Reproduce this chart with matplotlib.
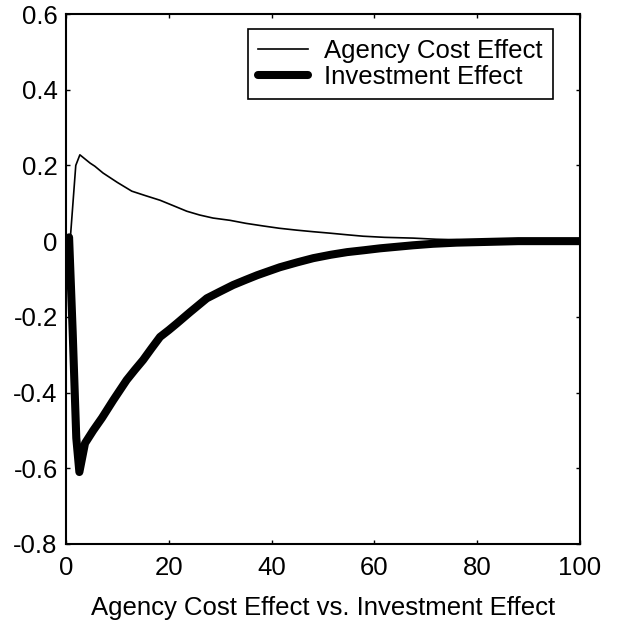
import numpy as np
import matplotlib
matplotlib.use('Agg')
import matplotlib.pyplot as plt
from matplotlib.ticker import FormatStrFormatter

plt.rcParams['font.family'] = ['Liberation Sans', 'DejaVu Sans']
plt.rcParams['axes.unicode_minus'] = False

# Agency cost effect (thin line)
agency_x = [0.8, 1.9, 2.7, 4.7, 5.6, 7.2, 10.0, 12.8, 15.5, 18.3, 21.0, 23.5,
            26.0, 28.6, 31.9, 35.0, 38.4, 41.5, 44.9, 48.0, 51.4, 54.5, 57.8,
            62.0, 67.5, 72.0, 78.0, 85.0, 100.0]
agency_y = [0.0, 0.20, 0.228, 0.206, 0.198, 0.18, 0.155, 0.132, 0.12, 0.108,
            0.093, 0.079, 0.069, 0.061, 0.055, 0.047, 0.040, 0.034, 0.029,
            0.025, 0.021, 0.017, 0.013, 0.010, 0.008, 0.005, 0.003, 0.001, 0.0]

# Investment effect (thick line)
invest_x = [0.6, 1.3, 2.0, 2.6, 3.7, 5.3, 7.0, 9.2, 11.8, 13.4, 15.0, 16.6,
            18.3, 20.0, 21.6, 24.1, 27.4, 30.0, 32.5, 35.0, 37.2, 39.5, 41.6,
            45.0, 48.1, 51.5, 54.7, 58.0, 61.1, 64.3, 67.5, 71.4, 76.0, 82.0,
            88.0, 100.0]
invest_y = [0.01, -0.24, -0.52, -0.61, -0.534, -0.50, -0.467, -0.42, -0.367,
            -0.34, -0.314, -0.284, -0.253, -0.235, -0.217, -0.188, -0.151,
            -0.133, -0.116, -0.102, -0.09, -0.079, -0.069, -0.056, -0.045,
            -0.036, -0.029, -0.024, -0.019, -0.015, -0.011, -0.007, -0.004,
            -0.002, 0.0, 0.0]

xticks = [0, 20, 40, 60, 80, 100]
yticks = [-0.8, -0.6, -0.4, -0.2, 0, 0.2, 0.4, 0.6]

fig = plt.figure(figsize=(6.18, 6.28), dpi=100)
ax = fig.add_axes([0.1068, 0.1338, 0.8317, 0.8439])

ax.plot(agency_x, agency_y, color='black', linewidth=1.2, label='Agency Cost Effect')
ax.plot(invest_x, invest_y, color='black', linewidth=5.8, label='Investment Effect',
        solid_joinstyle='round', solid_capstyle='round')

ax.set_xlim(0, 100)
ax.set_ylim(-0.8, 0.6)
ax.set_xticks(xticks)
ax.set_yticks(yticks)
ax.yaxis.set_major_formatter(FormatStrFormatter('%g'))
ax.tick_params(direction='in', length=3, width=1, top=True, right=True,
               labelsize=18.5)
ax.tick_params(axis='x', pad=9)
ax.tick_params(axis='y', pad=6)
for s in ax.spines.values():
    s.set_linewidth(1.5)

ax.set_xlabel('Agency Cost Effect vs. Investment Effect', fontsize=18.5, labelpad=11)

leg = ax.legend(loc='upper left', bbox_to_anchor=(0.354, 0.9717), borderaxespad=0,
                fontsize=18.5, frameon=True, fancybox=False,
                edgecolor='black', framealpha=1, handlelength=1.95,
                labelspacing=0.05, borderpad=0.4, handletextpad=0.62)
leg.get_frame().set_linewidth(1.2)

fig.savefig('out.png', dpi=100)
